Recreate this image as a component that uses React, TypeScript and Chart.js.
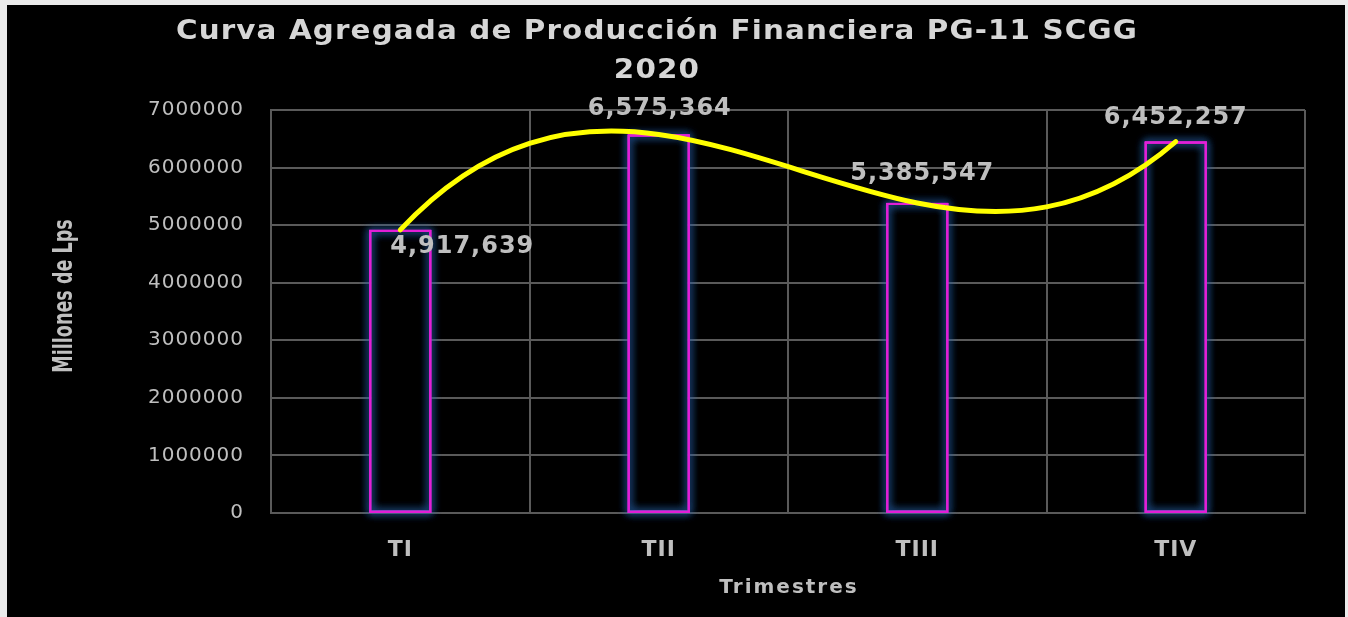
import React, { useEffect, useRef } from 'react';
import { Chart, registerables } from 'chart.js';

Chart.register(...registerables);

const categories = ['TI', 'TII', 'TIII', 'TIV'];
const produccion = [4917639, 6575364, 5385547, 6452257];
const titleLines = ['Curva Agregada de Producción Financiera PG-11 SCGG', '2020'];
const yAxisTitle = 'Millones de Lps';
const xAxisTitle = 'Trimestres';
const yMin = 0;
const yMax = 7000000;
const yStep = 1000000;

const W = 1348;
const H = 617;
const GRID = '#5a5a5a';
const TEXT = '#bfbfbf';

const bgPlugin = {
  id: 'bg',
  beforeDraw(chart: any) {
    const ctx = chart.ctx;
    ctx.save();
    ctx.fillStyle = '#ebebeb';
    ctx.fillRect(0, 0, W, H);
    ctx.fillStyle = '#000000';
    ctx.fillRect(7, 5, W - 10, H - 5);
    ctx.restore();
    ctx.letterSpacing = '1px';
  },
};

const glowPlugin = {
  id: 'glow',
  afterDatasetDraw(chart: any, args: any) {
    const meta = chart.getDatasetMeta(args.index);
    if (meta.type !== 'bar') return;
    const ctx = chart.ctx;
    const color = meta.controller.getDataset().borderColor;
    meta.data.forEach((el: any) => {
      const { x, y, base, width } = el.getProps(['x', 'y', 'base', 'width'], true);
      const left = x - width / 2;
      ctx.save();
      ctx.shadowColor = 'rgba(40,100,175,1)';
      ctx.shadowBlur = 9;
      ctx.strokeStyle = color;
      ctx.lineWidth = 2;
      for (let k = 0; k < 3; k++) ctx.strokeRect(left + 1, y + 1, width - 2, base - y - 1);
      ctx.shadowBlur = 0;
      ctx.strokeRect(left + 1, y + 1, width - 2, base - y - 1);
      ctx.restore();
    });
  },
};

// smooth curve: tangents from the interpolating polynomial through the scale-mapped points
const splinePlugin = {
  id: 'polySpline',
  beforeDatasetDraw(chart: any, args: any) {
    const meta = chart.getDatasetMeta(args.index);
    if (meta.type !== 'line') return;
    const line: any = meta.dataset;
    if (line.updateControlPoints) line.updateControlPoints(chart.chartArea, 'x');
    const pts: any[] = meta.data;
    const n = pts.length;
    if (n < 3) return;
    const xs = pts.map((p) => p.x);
    const ys = pts.map((p) => p.y);
    const w = xs.map((xk, k) => {
      let prod = 1;
      for (let m = 0; m < n; m++) if (m !== k) prod *= xk - xs[m];
      return 1 / prod;
    });
    const slope = xs.map((xi, i) => {
      let s = 0;
      for (let j = 0; j < n; j++) {
        if (j === i) {
          let acc = 0;
          for (let m = 0; m < n; m++) if (m !== i) acc += 1 / (xi - xs[m]);
          s += ys[i] * acc;
        } else {
          s += ys[j] * (w[j] / w[i]) / (xi - xs[j]);
        }
      }
      return s;
    });
    for (let i = 0; i < n; i++) {
      const hb = i > 0 ? xs[i] - xs[i - 1] : 0;
      const hf = i < n - 1 ? xs[i + 1] - xs[i] : 0;
      pts[i].cp1x = xs[i] - hb / 3;
      pts[i].cp1y = ys[i] - (slope[i] * hb) / 3;
      pts[i].cp2x = xs[i] + hf / 3;
      pts[i].cp2y = ys[i] + (slope[i] * hf) / 3;
    }
    line._path = undefined;
  },
};

const textPlugin = {
  id: 'texts',
  afterDraw(chart: any) {
    const ctx = chart.ctx;
    ctx.save();
    ctx.textAlign = 'center';
    ctx.textBaseline = 'alphabetic';

    // title (slightly stretched horizontally)
    ctx.fillStyle = '#d6d6d6';
    ctx.font = 'bold 26px "DejaVu Sans"';
    ctx.letterSpacing = '1px';
    ctx.save();
    ctx.translate(657, 0);
    ctx.scale(1.13, 1);
    ctx.fillText(titleLines[0], 0, 39);
    ctx.fillText(titleLines[1], 0, 78);
    ctx.restore();

    // data labels
    const meta = chart.getDatasetMeta(1);
    const offsets = [
      [62, 23.5],
      [1, -19],
      [5, -22.5],
      [0, -18],
    ];
    ctx.fillStyle = TEXT;
    ctx.font = 'bold 24px "DejaVu Sans"';
    ctx.letterSpacing = '1px';
    meta.data.forEach((pt: any, i: number) => {
      const v = produccion[i];
      const o = offsets[i] || [0, -20];
      ctx.fillText(v.toLocaleString('en-US'), pt.x + o[0], pt.y + o[1]);
    });

    // x axis title
    const area = chart.chartArea;
    ctx.font = 'bold 20px "DejaVu Sans"';
    ctx.letterSpacing = '2px';
    ctx.fillText(xAxisTitle, (area.left + area.right) / 2 + 1, 593);

    // y axis title (condensed)
    ctx.letterSpacing = '0px';
    ctx.translate(72, 296);
    ctx.rotate(-Math.PI / 2);
    ctx.scale(0.65, 1);
    ctx.textBaseline = 'alphabetic';
    ctx.font = 'bold 27px "DejaVu Sans"';
    ctx.fillText(yAxisTitle, 0, 0);
    ctx.restore();
    ctx.letterSpacing = '0px';
  },
};

export default function App() {
  const ref = useRef<HTMLCanvasElement>(null);
  useEffect(() => {
    document.body.style.margin = '0';
    const chart = new Chart(ref.current as HTMLCanvasElement, {
      type: 'bar',
      data: {
        labels: categories,
        datasets: [
          {
            type: 'bar',
            data: produccion,
            backgroundColor: '#000000',
            borderColor: '#e21fd6',
            borderWidth: 2,
            borderSkipped: false,
            barPercentage: 0.24,
            categoryPercentage: 1,
            order: 1,
          } as any,
          {
            type: 'line',
            data: produccion,
            borderColor: '#ffff00',
            borderWidth: 5,
            tension: 0.4,
            pointRadius: 0,
            borderCapStyle: 'round',
            borderJoinStyle: 'round',
            fill: false,
            order: 0,
          } as any,
        ],
      },
      options: {
        responsive: false,
        animation: false,
        layout: { padding: { left: 0, top: 110, right: 43, bottom: 0 } },
        plugins: {
          legend: { display: false },
          tooltip: { enabled: false },
          title: { display: false },
        },
        scales: {
          x: {
            grid: { color: GRID, lineWidth: 2, drawTicks: false, offset: true },
            border: { color: GRID, width: 2 },
            ticks: {
              color: TEXT,
              font: { family: 'DejaVu Sans', weight: 'bold', size: 22 },
              padding: 24,
            },
            afterFit: (s: any) => {
              s.height = 104;
            },
          },
          y: {
            min: yMin,
            max: yMax,
            grid: { color: GRID, lineWidth: 2, drawTicks: false },
            border: { color: GRID, width: 2 },
            ticks: {
              stepSize: yStep,
              color: TEXT,
              font: { family: 'DejaVu Sans', size: 20 },
              padding: 27,
              callback: (v: any) => String(v),
            },
            afterFit: (s: any) => {
              s.width = 271;
            },
          },
        },
      } as any,
      plugins: [bgPlugin, glowPlugin, splinePlugin, textPlugin],
    });
    return () => chart.destroy();
  }, []);
  return (
    <canvas
      ref={ref}
      width={W}
      height={H}
      style={{ display: 'block', position: 'fixed', left: 0, top: 0 }}
    />
  );
}
